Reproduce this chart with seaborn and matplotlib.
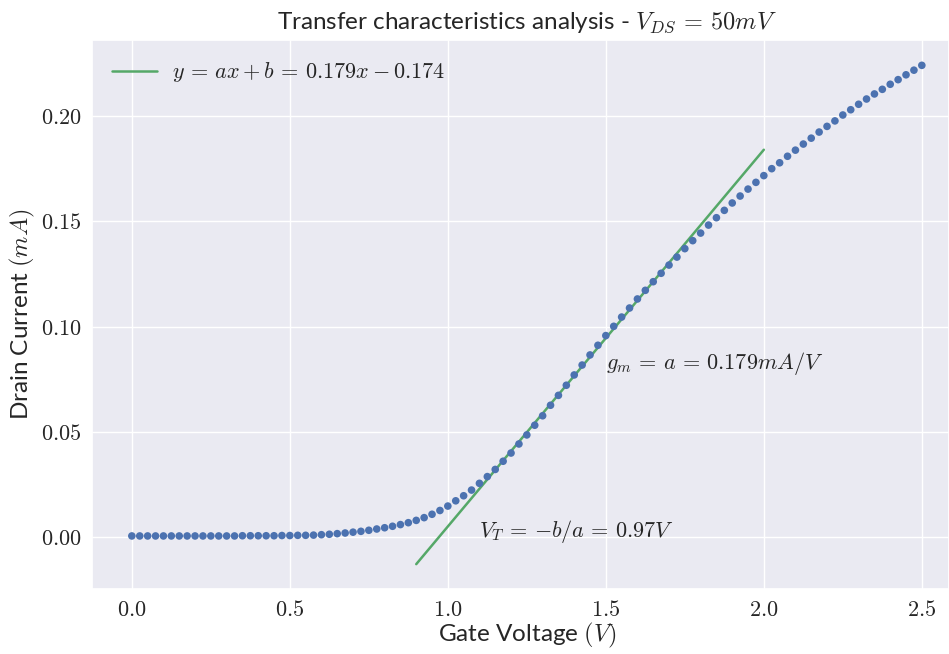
import matplotlib
matplotlib.use("Agg")
import matplotlib.pyplot as plt
import seaborn as sns
import numpy as np
import pandas as pd
from matplotlib.ticker import FuncFormatter

# Measured transfer curve: gate sweep 0 .. 2.5 V in 25 mV steps, drain current in mA
gate_voltage = [
    0.000, 0.025, 0.050, 0.075, 0.100, 0.125, 0.150, 0.175, 0.200, 0.225,
    0.250, 0.275, 0.300, 0.325, 0.350, 0.375, 0.400, 0.425, 0.450, 0.475,
    0.500, 0.525, 0.550, 0.575, 0.600, 0.625, 0.650, 0.675, 0.700, 0.725,
    0.750, 0.775, 0.800, 0.825, 0.850, 0.875, 0.900, 0.925, 0.950, 0.975,
    1.000, 1.025, 1.050, 1.075, 1.100, 1.125, 1.150, 1.175, 1.200, 1.225,
    1.250, 1.275, 1.300, 1.325, 1.350, 1.375, 1.400, 1.425, 1.450, 1.475,
    1.500, 1.525, 1.550, 1.575, 1.600, 1.625, 1.650, 1.675, 1.700, 1.725,
    1.750, 1.775, 1.800, 1.825, 1.850, 1.875, 1.900, 1.925, 1.950, 1.975,
    2.000, 2.025, 2.050, 2.075, 2.100, 2.125, 2.150, 2.175, 2.200, 2.225,
    2.250, 2.275, 2.300, 2.325, 2.350, 2.375, 2.400, 2.425, 2.450, 2.475,
    2.500,
]
drain_current = [
    0.0005, 0.0005, 0.0005, 0.0005, 0.0005, 0.0005, 0.0005, 0.0005, 0.0005, 0.0005,
    0.0005, 0.0005, 0.0005, 0.0005, 0.0006, 0.0006, 0.0006, 0.0006, 0.0006, 0.0007,
    0.0007, 0.0008, 0.0008, 0.0009, 0.0011, 0.0013, 0.0016, 0.0019, 0.0023, 0.0027,
    0.0032, 0.0038, 0.0044, 0.0051, 0.0059, 0.0068, 0.0079, 0.0092, 0.0108, 0.0126,
    0.0147, 0.0172, 0.0196, 0.0223, 0.0255, 0.0287, 0.0321, 0.0360, 0.0399, 0.0442,
    0.0485, 0.0531, 0.0576, 0.0626, 0.0673, 0.0721, 0.0770, 0.0817, 0.0865, 0.0911,
    0.0957, 0.1001, 0.1045, 0.1088, 0.1131, 0.1172, 0.1213, 0.1253, 0.1292, 0.1330,
    0.1370, 0.1408, 0.1444, 0.1482, 0.1517, 0.1552, 0.1587, 0.1620, 0.1653, 0.1685,
    0.1717, 0.1750, 0.1778, 0.1809, 0.1838, 0.1867, 0.1895, 0.1924, 0.1951, 0.1977,
    0.2005, 0.2030, 0.2056, 0.2081, 0.2105, 0.2127, 0.2151, 0.2173, 0.2196, 0.2218,
    0.2241,
]

# Linear fit of the strong-inversion region
slope_a = 0.179
intercept_b = -0.174
fit_range = [0.9, 2.0]
threshold_v = 0.97

x_ticks = [0.0, 0.5, 1.0, 1.5, 2.0, 2.5]
y_ticks = [0.00, 0.05, 0.10, 0.15, 0.20]

sns.set_theme(style="darkgrid")
plt.rcParams["font.family"] = ["Lato", "DejaVu Sans"]
plt.rcParams["mathtext.fontset"] = "cm"

measured = pd.DataFrame({"Vg": gate_voltage, "Id": drain_current})
fit_x = np.array(fit_range)
fitted = pd.DataFrame({"Vg": fit_x, "Id": slope_a * fit_x + intercept_b})

fig = plt.figure(figsize=(9.49, 6.54), dpi=100)
ax = fig.add_axes([0.0973, 0.0994, 1.0 - 0.0973, 0.9384 - 0.0994])

sns.scatterplot(data=measured, x="Vg", y="Id", ax=ax, s=30,
                color=sns.color_palette("deep")[0], edgecolor="none", zorder=3)
sns.lineplot(data=fitted, x="Vg", y="Id", ax=ax,
             color=sns.color_palette("deep")[2], linewidth=1.8, zorder=2,
             label=r"$y \,=\, ax + b \,=\, %.3fx - %.3f$" % (slope_a, -intercept_b))

ax.set_xlim(-0.125, 2.586)
ax.set_ylim(-0.0247, 0.2360)
ax.set_xticks(x_ticks)
ax.set_yticks(y_ticks)
ax.xaxis.set_major_formatter(FuncFormatter(lambda v, p: r"$%.1f$" % v))
ax.yaxis.set_major_formatter(FuncFormatter(lambda v, p: r"$%.2f$" % v))
ax.tick_params(labelsize=16, pad=2)

# Labels and title are centred on the full sweep span (-0.125 .. 2.625 V)
center_frac = ((-0.125 + 2.625) / 2 + 0.125) / (2.586 + 0.125)
ax.set_xlabel(r"Gate Voltage $(V)$", fontsize=17.5)
ax.set_ylabel(r"Drain Current $(mA)$", fontsize=17.5)
ax.xaxis.set_label_coords(center_frac, -0.058)
ax.yaxis.set_label_coords(-0.0645, 0.5)
ax.set_title(r"Transfer characteristics analysis - $V_{DS} \,=\, 50mV$",
             fontsize=17.5, pad=8, x=center_frac)

ax.text(1.5, 0.08, r"$g_m \,=\, a \,=\, %.3f mA/V$" % slope_a, fontsize=16, color="#262626")
ax.text(1.1, 0.0, r"$V_T \,=\, {-b}/a \,=\, %.2fV$" % threshold_v, fontsize=16, color="#262626")

leg = ax.legend(loc="upper left", fontsize=16, frameon=False,
                handlelength=2.0, handletextpad=0.7)

fig.savefig("out.png", dpi=100)
